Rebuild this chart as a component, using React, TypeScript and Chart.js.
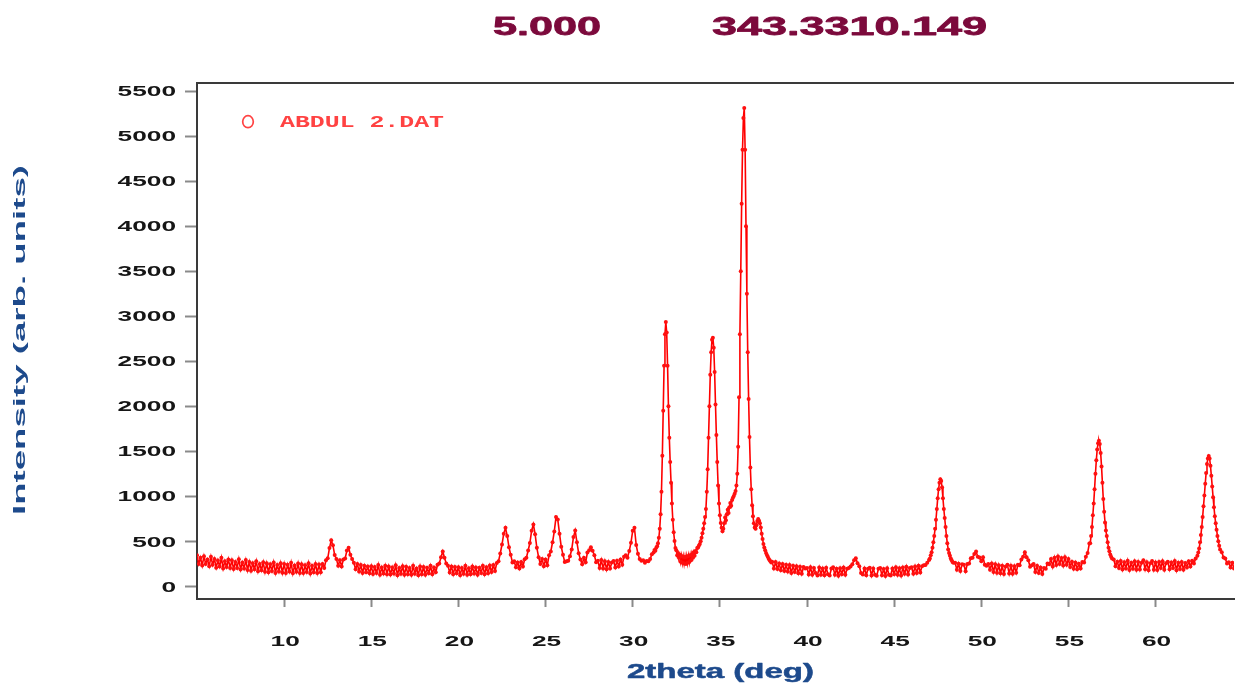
import React, { useEffect, useRef } from "react";
import { Chart, registerables } from "chart.js";

Chart.register(...registerables);

// ---------- Text content ----------
const TITLE_LEFT = "5.000";
const TITLE_RIGHT = "343.3310.149";
const SERIES_LABEL = "ABDUL 2.DAT";
const X_TITLE = "2theta (deg)";
const Y_TITLE = "Intensity (arb. units)";

// ---------- Tick values ----------
const X_TICKS = [10, 15, 20, 25, 30, 35, 40, 45, 50, 55, 60];
const Y_TICKS = [0, 500, 1000, 1500, 2000, 2500, 3000, 3500, 4000, 4500, 5000, 5500];

// ---------- Scan data (start angle, step, counts) ----------
// 5.0 .. 31.2 deg, step 0.1
const COUNTS_5_TO_31 = [
  345, 250, 318, 232, 335, 248, 300, 225, 328, 240,
  305, 208, 288, 222, 318, 200, 280, 215, 300, 205,
  290, 192, 272, 205, 302, 188, 265, 200, 292, 182,
  272, 175, 258, 190, 280, 168, 250, 180, 268, 162,
  256, 158, 245, 172, 266, 150, 238, 165, 258, 152,
  250, 150, 240, 165, 262, 145, 232, 162, 255, 148,
  245, 148, 236, 160, 258, 142, 228, 158, 250, 150,
  242, 158, 250, 205, 290, 312, 425, 512, 458, 348,
  305, 228, 290, 222, 300, 310, 398, 428, 352, 305,
  262, 190, 248, 165, 238, 150, 230, 158, 222, 145,
  225, 138, 215, 148, 238, 130, 210, 142, 228, 135,
  222, 132, 210, 142, 235, 125, 205, 140, 225, 130,
  218, 135, 205, 128, 230, 140, 200, 125, 222, 136,
  215, 128, 206, 145, 228, 135, 210, 158, 240, 255,
  325, 388, 318, 255, 228, 155, 222, 135, 215, 145,
  212, 125, 205, 140, 228, 130, 202, 135, 222, 142,
  210, 128, 206, 148, 228, 135, 212, 145, 232, 160,
  238, 172, 260, 280, 365, 465, 585, 650, 560, 435,
  350, 265, 278, 212, 266, 198, 272, 220, 302, 318,
  398, 482, 618, 688, 580, 428, 325, 250, 305, 225,
  298, 236, 345, 388, 490, 610, 770, 742, 585, 440,
  350, 272, 280, 285, 335, 410, 548, 620, 490, 368,
  300, 245, 318, 268, 375, 400, 435, 395, 345, 268,
  285, 205, 292, 200, 280, 190, 272, 198, 265, 282,
  210, 285, 222, 298, 240, 330, 345, 318, 392, 485,
  618, 650, 460, 362, 305, 285, 290, 262, 282, 278,
  305, 358, 375,
];

// 31.25 .. 37.95 deg, step 0.05
const COUNTS_31_TO_38 = [
  405, 395, 430, 445, 480, 540, 640, 800, 1050, 1450,
  1950, 2450, 2800, 2935, 2820, 2450, 2000, 1650, 1380, 1150,
  920, 740, 600, 505, 425, 400, 345, 372, 318, 350,
  275, 338, 262, 330, 255, 325, 250, 332, 262, 338,
  270, 345, 290, 352, 318, 378, 340, 392, 380, 425,
  432, 455, 470, 500, 540, 590, 640, 700, 770, 860,
  1050, 1300, 1650, 2000, 2350, 2600, 2740, 2762, 2650, 2380,
  2020, 1680, 1380, 1120, 920, 790, 705, 650, 612, 640,
  700, 765, 735, 800, 850, 815, 880, 925, 895, 960,
  985, 1005, 1030, 1060, 1120, 1250, 1550, 2100, 2800, 3500,
  4250, 4850, 5200, 5313, 4850, 4000, 3250, 2600, 2080, 1660,
  1320, 1080, 900, 780, 700, 655, 640, 680, 725, 748,
  730, 700, 655, 585, 525, 472, 432, 400, 372, 348,
  328, 308, 292, 280, 266,
];

// 38.0 .. 47.0 deg, step 0.1
const COUNTS_38_TO_47 = [
  275, 200, 270, 192, 255, 180, 248, 172, 240, 165,
  238, 150, 228, 160, 225, 145, 218, 140, 215, 200,
  205, 132, 212, 128, 205, 150, 122, 210, 130, 200,
  125, 206, 135, 120, 198, 212, 128, 195, 118, 202,
  135, 210, 128, 196, 205, 220, 245, 290, 312, 258,
  225, 150, 132, 200, 125, 195, 208, 122, 200, 130,
  118, 195, 205, 125, 192, 115, 202, 130, 122, 200,
  135, 212, 128, 202, 120, 210, 140, 218, 132, 205,
  212, 140, 222, 148, 228, 155, 225, 235, 238, 262,
  292,
];

// 47.05 .. 48.40 deg, step 0.05
const COUNTS_47_TO_48 = [
  310, 345, 380, 430, 490, 560, 640, 740, 860, 980,
  1080, 1150, 1191, 1170, 1100, 980, 860, 760, 660, 560,
  480, 410, 370, 340, 310, 290, 272, 262,
];

// 48.5 .. 56.2 deg, step 0.1
const COUNTS_48_TO_56 = [
  262, 185, 252, 170, 245,
  240, 168, 250, 255, 312, 318, 360, 388, 330, 322,
  278, 325, 240, 228, 248, 185, 255, 160, 245, 152,
  235, 145, 228, 138, 222, 240, 142, 230, 140, 225,
  152, 240, 235, 300, 330, 380, 325, 290, 218, 235,
  250, 160, 228, 150, 210, 138, 205, 195, 255, 245,
  305, 220, 318, 238, 332, 250, 315, 232, 325, 240,
  305, 215, 275, 195, 265, 190, 252, 198, 270, 265,
  330, 372, 475,
];

// 56.25 .. 57.50 deg, step 0.05
const COUNTS_56_TO_57 = [
  480, 560, 660, 790, 920, 1080, 1250, 1400, 1520, 1590,
  1618, 1580, 1480, 1330, 1150, 970, 830, 710, 620, 560,
  490, 430, 390, 355, 330, 310,
];

// 57.6 .. 62.4 deg, step 0.1
const COUNTS_57_TO_62 = [
  300, 225, 275, 205,
  282, 188, 268, 200, 286, 182, 262, 196, 278, 185,
  272, 188, 262, 290, 190, 268, 180, 258, 282, 186,
  266, 182, 272, 205, 280, 185, 258, 275, 190, 266,
  205, 282, 180, 262, 192, 270, 186, 260, 210, 278,
  220, 285, 255, 310, 340,
];

// 62.45 .. 63.70 deg, step 0.05
const COUNTS_62_TO_63 = [
  375, 420, 490, 570, 660, 770, 890, 1010, 1140, 1260,
  1360, 1420, 1449, 1420, 1340, 1230, 1110, 990, 880, 780,
  700, 630, 560, 500, 450, 410,
];

// 63.8 .. 64.6 deg, step 0.1
const COUNTS_63_TO_65 = [380, 320, 310, 255, 268, 210, 262, 198, 248];

const SCAN = [
  { start: 5.0, step: 0.1, counts: COUNTS_5_TO_31 },
  { start: 31.25, step: 0.05, counts: COUNTS_31_TO_38 },
  { start: 38.0, step: 0.1, counts: COUNTS_38_TO_47 },
  { start: 47.05, step: 0.05, counts: COUNTS_47_TO_48 },
  { start: 48.5, step: 0.1, counts: COUNTS_48_TO_56 },
  { start: 56.25, step: 0.05, counts: COUNTS_56_TO_57 },
  { start: 57.6, step: 0.1, counts: COUNTS_57_TO_62 },
  { start: 62.45, step: 0.05, counts: COUNTS_62_TO_63 },
  { start: 63.8, step: 0.1, counts: COUNTS_63_TO_65 },
];

function buildPoints() {
  const pts: { x: number; y: number }[] = [];
  SCAN.forEach((seg) => {
    seg.counts.forEach((c, i) => {
      pts.push({ x: Math.round((seg.start + i * seg.step) * 1000) / 1000, y: c });
    });
  });
  pts.sort((a, b) => a.x - b.x);
  return pts;
}

// ---------- Drawing helpers ----------
function drawScaled(
  ctx: CanvasRenderingContext2D,
  text: string,
  x: number,
  y: number,
  sx: number,
  align: "left" | "center" | "right",
  font: string,
  color: string,
  baseline: CanvasTextBaseline
) {
  ctx.save();
  ctx.font = font;
  const w = ctx.measureText(text).width * sx;
  const lx = align === "right" ? x - w : align === "center" ? x - w / 2 : x;
  ctx.translate(lx, y);
  ctx.scale(sx, 1);
  ctx.textAlign = "left";
  ctx.textBaseline = baseline;
  ctx.fillStyle = color;
  ctx.fillText(text, 0, 0);
  ctx.restore();
}

function drawFit(
  ctx: CanvasRenderingContext2D,
  text: string,
  x0: number,
  x1: number,
  y: number,
  font: string,
  color: string,
  strokeW = 0
) {
  ctx.save();
  ctx.font = font;
  const w = ctx.measureText(text).width;
  ctx.translate(x0, y);
  ctx.scale((x1 - x0) / w, 1);
  ctx.textAlign = "left";
  ctx.textBaseline = "alphabetic";
  ctx.fillStyle = color;
  ctx.fillText(text, 0, 0);
  if (strokeW > 0) {
    ctx.strokeStyle = color;
    ctx.lineWidth = strokeW;
    ctx.lineJoin = "round";
    ctx.strokeText(text, 0, 0);
  }
  ctx.restore();
}

const TICK_FONT = 'bold 15px "Liberation Sans", Arial, sans-serif';
const TICK_COLOR = "#161616";
const AXIS_TITLE_COLOR = "#1d4a8c";
const TITLE_COLOR = "#7c0a3c";
const LEGEND_COLOR = "#ff4242";

const annotationPlugin = {
  id: "xrdAnnotations",
  afterDraw(chart: any) {
    const ctx: CanvasRenderingContext2D = chart.ctx;
    const area = chart.chartArea;
    const xs = chart.scales.x;
    const ys = chart.scales.y;

    // top frame line
    ctx.save();
    ctx.strokeStyle = "#3a3a3a";
    ctx.lineWidth = 2;
    ctx.beginPath();
    ctx.moveTo(area.left - 1, area.top);
    ctx.lineTo(area.right, area.top);
    ctx.stroke();
    ctx.restore();

    // y tick labels
    ys.ticks.forEach((t: any) => {
      const py = ys.getPixelForValue(t.value);
      drawScaled(ctx, String(t.value), 176, py + 1, 1.75, "right", TICK_FONT, TICK_COLOR, "middle");
    });
    // x tick labels
    xs.ticks.forEach((t: any) => {
      const px = xs.getPixelForValue(t.value);
      drawScaled(ctx, String(t.value), px + 1, 642, 1.75, "center", TICK_FONT, TICK_COLOR, "middle");
    });

    // titles
    drawFit(ctx, TITLE_LEFT, 493, 601, 35, 'bold 26px "Liberation Sans", Arial, sans-serif', TITLE_COLOR, 0.8);
    drawFit(ctx, TITLE_RIGHT, 712, 987, 35, 'bold 26px "Liberation Sans", Arial, sans-serif', TITLE_COLOR, 0.8);

    // x axis title
    drawFit(ctx, X_TITLE, 627, 814, 678, 'bold 21px "Liberation Sans", Arial, sans-serif', AXIS_TITLE_COLOR, 0.5);

    // y axis title (rotated)
    ctx.save();
    ctx.font = 'bold 16px "Liberation Sans", Arial, sans-serif';
    const yw = ctx.measureText(Y_TITLE).width;
    ctx.translate(25, 340);
    ctx.rotate(-Math.PI / 2);
    const len = 350;
    ctx.translate(-len / 2, 0);
    ctx.scale(len / yw, 1);
    ctx.fillStyle = AXIS_TITLE_COLOR;
    ctx.textAlign = "left";
    ctx.textBaseline = "alphabetic";
    ctx.fillText(Y_TITLE, 0, 0);
    ctx.restore();

    // legend inside the plot
    ctx.save();
    ctx.strokeStyle = LEGEND_COLOR;
    ctx.lineWidth = 1.7;
    ctx.beginPath();
    ctx.ellipse(248, 121.7, 5.3, 6, 0, 0, Math.PI * 2);
    ctx.stroke();
    ctx.restore();
    drawFit(ctx, SERIES_LABEL, 280, 444, 127, 'bold 16px "Liberation Mono", "DejaVu Sans Mono", monospace', LEGEND_COLOR);
  },
};

export default function App() {
  const canvasRef = useRef<HTMLCanvasElement | null>(null);

  useEffect(() => {
    const canvas = canvasRef.current;
    if (!canvas) return;
    const points = buildPoints();
    const chart = new Chart(canvas, {
      type: "line",
      data: {
        datasets: [
          {
            label: SERIES_LABEL,
            data: points,
            borderColor: "#ff0000",
            borderWidth: 1.6,
            backgroundColor: "#ff0000",
            pointRadius: 2,
            pointBorderWidth: 0,
            pointBackgroundColor: "#ff1010",
            pointHoverRadius: 0,
            tension: 0,
            fill: false,
          },
        ],
      },
      options: {
        responsive: false,
        animation: false,
        devicePixelRatio: 1,
        parsing: false,
        normalized: true,
        layout: { padding: { top: 83, left: 0, right: 0, bottom: 0 } },
        plugins: {
          legend: { display: false },
          tooltip: { enabled: false },
          title: { display: false },
        },
        scales: {
          x: {
            type: "linear",
            min: 5,
            max: 64.5,
            afterBuildTicks: (s: any) => {
              s.ticks = X_TICKS.map((v) => ({ value: v }));
            },
            afterFit: (s: any) => {
              s.height = 85;
            },
            ticks: { display: false },
            grid: {
              display: true,
              drawOnChartArea: false,
              drawTicks: true,
              tickLength: 8,
              tickColor: "#8a8a8a",
              tickWidth: 2,
            },
            border: { display: true, color: "#3a3a3a", width: 2 },
          },
          y: {
            type: "linear",
            min: -140,
            max: 5590,
            afterBuildTicks: (s: any) => {
              s.ticks = Y_TICKS.map((v) => ({ value: v }));
            },
            afterFit: (s: any) => {
              s.width = 197;
            },
            ticks: { display: false },
            grid: {
              display: true,
              drawOnChartArea: false,
              drawTicks: true,
              tickLength: 12,
              tickColor: "#8a8a8a",
              tickWidth: 2,
            },
            border: { display: true, color: "#3a3a3a", width: 2 },
          },
        },
      },
      plugins: [annotationPlugin],
    } as any);
    return () => chart.destroy();
  }, []);

  return (
    <div
      style={{
        position: "fixed",
        left: 0,
        top: 0,
        width: 1236,
        height: 684,
        background: "#ffffff",
        overflow: "hidden",
      }}
    >
      <canvas ref={canvasRef} width={1236} height={684} style={{ display: "block" }} />
    </div>
  );
}
